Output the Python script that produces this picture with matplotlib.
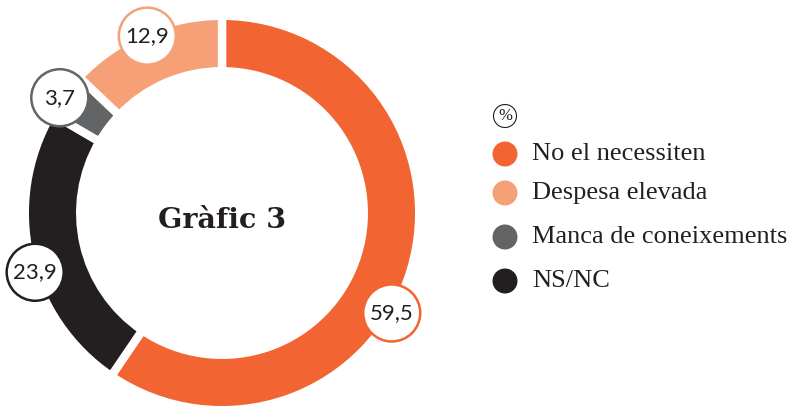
import matplotlib
matplotlib.use("Agg")
import numpy as np
import matplotlib.pyplot as plt
from matplotlib.patches import Circle

# data, clockwise from 12 o'clock
pie_labels = ["No el necessiten", "NS/NC", "Manca de coneixements", "Despesa elevada"]
pie_values = [59.5, 23.9, 3.7, 12.9]
pie_colors = ["#F26532", "#231F20", "#636466", "#F6A077"]
value_texts = ["59,5", "23,9", "3,7", "12,9"]

# legend order
legend_labels = ["No el necessiten", "Despesa elevada", "Manca de coneixements", "NS/NC"]
legend_colors = ["#F26532", "#F6A077", "#636466", "#231F20"]

W, H = 803, 407
fig = plt.figure(figsize=(W / 100, H / 100), dpi=100)
ax = fig.add_axes([0, 0, 1, 1])

cx, cy = 222, H - 213
R = 193
ring = 47
gap_lw = 6

ax.pie(pie_values, colors=pie_colors, startangle=90, counterclock=False,
       center=(cx, cy), radius=R + gap_lw * 0.7,
       wedgeprops=dict(width=ring + gap_lw * 1.4, edgecolor="white", linewidth=gap_lw))

# value labels in white circles around the ring
label_angles = [-30.5, 197.6, 144.6, 112.9]
label_r = [197, 196, 199, 192]
for txt, col, ang, rr in zip(value_texts, pie_colors, label_angles, label_r):
    x = cx + rr * np.cos(np.radians(ang))
    y = cy + rr * np.sin(np.radians(ang))
    ax.add_patch(Circle((x, y), 28.5, facecolor="white", edgecolor=col, lw=1.8, zorder=5))
    ax.text(x, y, txt, ha="center", va="center", fontsize=16, family="Lato",
            color="#231F20", zorder=6)

ax.text(cx, H - 220, "Gràfic 3", ha="center", va="center", fontsize=20.5,
        family="DejaVu Serif", fontweight="bold", color="#231F20")

# legend
ax.add_patch(Circle((505, H - 116), 11.5, facecolor="white", edgecolor="#231F20", lw=0.8))
ax.text(505, H - 116, "%", ha="center", va="center", fontsize=12,
        family="Liberation Serif", color="#231F20")
legend_y = [154, 193, 237, 281]
for lab, col, ly in zip(legend_labels, legend_colors, legend_y):
    ax.add_patch(Circle((505, H - ly), 12.5, facecolor=col, edgecolor="none"))
    ax.text(532, H - ly, lab, ha="left", va="center", fontsize=19,
            family="Liberation Serif", color="#231F20")

ax.set_xlim(0, W)
ax.set_ylim(0, H)
ax.set_aspect("equal")
ax.axis("off")

fig.savefig("out.png", dpi=100)
